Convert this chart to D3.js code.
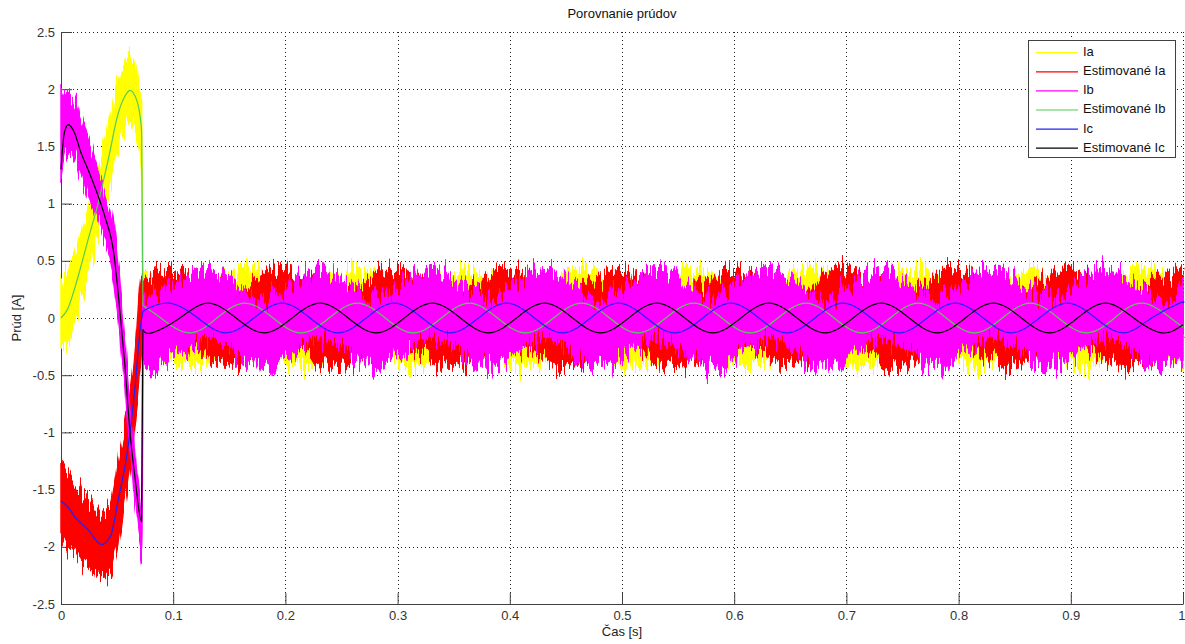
<!DOCTYPE html>
<html><head><meta charset="utf-8">
<script src="https://cdn.jsdelivr.net/npm/d3@7"></script>
<style>
body{margin:0;background:#fff;}
svg{display:block;}
text{font-family:"Liberation Sans",Arial,Helvetica,sans-serif;}
</style>
</head><body>
<svg id="c" width="1185" height="644"></svg>
<script>
// ---------- labels ----------
const titleText = "Porovnanie prúdov";
const xLabel = "Čas [s]";
const yLabel = "Prúd [A]";
const xTickValues = [0,0.1,0.2,0.3,0.4,0.5,0.6,0.7,0.8,0.9,1];
const xTickLabels = ["0","0.1","0.2","0.3","0.4","0.5","0.6","0.7","0.8","0.9","1"];
const yTickValues = [2.5,2,1.5,1,0.5,0,-0.5,-1,-1.5,-2,-2.5];
const yTickLabels = ["2.5","2","1.5","1","0.5","0","-0.5","-1","-1.5","-2","-2.5"];
const seriesNames = ["Ia","Estimované Ia","Ib","Estimované Ib","Ic","Estimované Ic"];
const seriesColors = ["#ffff00","#ff0000","#ff00ff","#55cc55","#2020ff","#000000"];

// ---------- start-up transient (t < 0.073 s) ----------
// Ia (yellow, noisy band: lower / upper edge)
const iaTrT  = [0,0.006,0.0125,0.018,0.024,0.033,0.042,0.051,0.056,0.0615,0.066,0.0695,0.0718,0.073];
const iaTrLo = [-0.28,-0.22,0.0,0.18,0.4,0.75,1.12,1.52,1.65,1.72,1.65,1.5,1.3,-0.19];
const iaTrHi = [0.35,0.42,0.55,0.75,0.98,1.28,1.66,2.07,2.2,2.3,2.22,2.02,1.92,0.41];
// Estimované Ia (red, noisy band)
const eiaTrT  = [0,0.006,0.0125,0.02,0.028,0.036,0.044,0.05,0.055,0.06,0.064,0.068,0.0718,0.073];
const eiaTrLo = [-1.92,-2.0,-2.05,-2.15,-2.22,-2.26,-2.22,-2.0,-1.72,-1.38,-1.12,-0.75,-0.35,-0.24];
const eiaTrHi = [-1.28,-1.35,-1.45,-1.55,-1.62,-1.7,-1.62,-1.3,-1.05,-0.75,-0.45,-0.05,0.4,0.36];
// Ib (magenta, noisy band)
const ibTrT  = [0,0.003,0.0065,0.012,0.018,0.024,0.03,0.039,0.047,0.0526,0.057,0.0615,0.066,0.0705,0.0722,0.073];
const ibTrLo = [1.25,1.4,1.45,1.4,1.25,1.1,0.95,0.68,0.35,-0.15,-0.6,-1.2,-1.6,-1.95,-2.05,-0.4];
const ibTrHi = [2.0,1.95,1.98,1.9,1.7,1.55,1.38,1.1,0.8,0.3,-0.22,-0.8,-1.2,-1.55,-1.65,0.2];
// Estimované Ib (green line)
const eibTrT = [0,0.006,0.0125,0.018,0.024,0.033,0.042,0.051,0.0565,0.0615,0.066,0.069,0.0719,0.073];
const eibTrV = [0.0,0.08,0.27,0.46,0.68,1.0,1.38,1.79,1.93,1.99,1.94,1.85,1.62,0.11];
// Ic (blue line)
const icTrT = [0,0.006,0.0125,0.024,0.036,0.044,0.051,0.0585,0.0615,0.066,0.0705,0.073];
const icTrV = [-1.6,-1.65,-1.74,-1.85,-1.98,-1.91,-1.59,-1.21,-1.0,-0.6,-0.1,0.06];
// Estimované Ic (black line)
const eicTrT = [0,0.003,0.0065,0.012,0.018,0.024,0.03,0.039,0.047,0.0526,0.057,0.0615,0.066,0.0718,0.073];
const eicTrV = [1.3,1.62,1.69,1.62,1.44,1.3,1.15,0.89,0.57,0.05,-0.42,-1.0,-1.4,-1.78,-0.10];

// ---------- steady state (t >= 0.073 s) ----------
// Estimované Ic (black) and Ib band (magenta) share these sample times
const tK = [0.073,0.081,0.106,0.131,0.156,0.181,0.206,0.231,0.256,0.281,0.306,0.331,0.356,0.381,0.406,0.431,0.456,0.481,0.506,0.531,0.556,0.581,0.606,0.631,0.656,0.681,0.706,0.731,0.756,0.781,0.806,0.831,0.856,0.881,0.906,0.931,0.956,0.981,1.0];
const eicV = [-0.10,-0.13,0,0.13,0,-0.13,0,0.13,0,-0.13,0,0.13,0,-0.13,0,0.13,0,-0.13,0,0.13,0,-0.13,0,0.13,0,-0.13,0,0.13,0,-0.13,0,0.13,0,-0.13,0,0.13,0,-0.13,-0.06];
const ibLo = [-0.40,-0.43,-0.3,-0.17,-0.3,-0.43,-0.3,-0.17,-0.3,-0.43,-0.3,-0.17,-0.3,-0.43,-0.3,-0.17,-0.3,-0.43,-0.3,-0.17,-0.3,-0.43,-0.3,-0.17,-0.3,-0.43,-0.3,-0.17,-0.3,-0.43,-0.3,-0.17,-0.3,-0.43,-0.3,-0.17,-0.3,-0.43,-0.36];
const ibHi = [0.20,0.17,0.3,0.43,0.3,0.17,0.3,0.43,0.3,0.17,0.3,0.43,0.3,0.17,0.3,0.43,0.3,0.17,0.3,0.43,0.3,0.17,0.3,0.43,0.3,0.17,0.3,0.43,0.3,0.17,0.3,0.43,0.3,0.17,0.3,0.43,0.3,0.17,0.24];
// Estimované Ib (green) and Ia band (yellow)
const tG = [0.073,0.089,0.114,0.139,0.164,0.189,0.214,0.239,0.264,0.289,0.314,0.339,0.364,0.389,0.414,0.439,0.464,0.489,0.514,0.539,0.564,0.589,0.614,0.639,0.664,0.689,0.714,0.739,0.764,0.789,0.814,0.839,0.864,0.889,0.914,0.939,0.964,0.989,1.0];
const eibV = [0.11,0,-0.13,0,0.13,0,-0.13,0,0.13,0,-0.13,0,0.13,0,-0.13,0,0.13,0,-0.13,0,0.13,0,-0.13,0,0.13,0,-0.13,0,0.13,0,-0.13,0,0.13,0,-0.13,0,0.13,0,-0.08];
const iaLo = [-0.19,-0.3,-0.43,-0.3,-0.17,-0.3,-0.43,-0.3,-0.17,-0.3,-0.43,-0.3,-0.17,-0.3,-0.43,-0.3,-0.17,-0.3,-0.43,-0.3,-0.17,-0.3,-0.43,-0.3,-0.17,-0.3,-0.43,-0.3,-0.17,-0.3,-0.43,-0.3,-0.17,-0.3,-0.43,-0.3,-0.17,-0.3,-0.38];
const iaHi = [0.41,0.3,0.17,0.3,0.43,0.3,0.17,0.3,0.43,0.3,0.17,0.3,0.43,0.3,0.17,0.3,0.43,0.3,0.17,0.3,0.43,0.3,0.17,0.3,0.43,0.3,0.17,0.3,0.43,0.3,0.17,0.3,0.43,0.3,0.17,0.3,0.43,0.3,0.22];
// Ic (blue) and Estimované Ia band (red)
const tC = [0.073,0.097,0.122,0.147,0.172,0.197,0.222,0.247,0.272,0.297,0.322,0.347,0.372,0.397,0.422,0.447,0.472,0.497,0.522,0.547,0.572,0.597,0.622,0.647,0.672,0.697,0.722,0.747,0.772,0.797,0.822,0.847,0.872,0.897,0.922,0.947,0.972,0.997,1.0];
const icV = [0.06,0.13,0,-0.13,0,0.13,0,-0.13,0,0.13,0,-0.13,0,0.13,0,-0.13,0,0.13,0,-0.13,0,0.13,0,-0.13,0,0.13,0,-0.13,0,0.13,0,-0.13,0,0.13,0,-0.13,0,0.13,0.129];
const eiaLo = [-0.24,-0.17,-0.3,-0.43,-0.3,-0.17,-0.3,-0.43,-0.3,-0.17,-0.3,-0.43,-0.3,-0.17,-0.3,-0.43,-0.3,-0.17,-0.3,-0.43,-0.3,-0.17,-0.3,-0.43,-0.3,-0.17,-0.3,-0.43,-0.3,-0.17,-0.3,-0.43,-0.3,-0.17,-0.3,-0.43,-0.3,-0.17,-0.17];
const eiaHi = [0.36,0.43,0.3,0.17,0.3,0.43,0.3,0.17,0.3,0.43,0.3,0.17,0.3,0.43,0.3,0.17,0.3,0.43,0.3,0.17,0.3,0.43,0.3,0.17,0.3,0.43,0.3,0.17,0.3,0.43,0.3,0.17,0.3,0.43,0.3,0.17,0.3,0.43,0.43];

// ---------- drawing ----------
const m = {l:61, r:1183, t:32, b:604};
const x = d3.scaleLinear().domain([0,1]).range([m.l,m.r]);
const y = d3.scaleLinear().domain([-2.5,2.5]).range([m.b,m.t]);
const svg = d3.select("#c");
svg.append("rect").attr("width",1185).attr("height",644).attr("fill","#fff");

// edge texture for the noisy measured signals (visual style only)
const defs = svg.append("defs");
[7,19,31].forEach((seed,i)=>{
  const f = defs.append("filter").attr("id","rough"+i)
    .attr("x","-2%").attr("y","-40%").attr("width","104%").attr("height","180%")
    .attr("color-interpolation-filters","sRGB");
  f.append("feTurbulence").attr("type","fractalNoise").attr("baseFrequency","0.45 0.012")
    .attr("numOctaves",2).attr("seed",seed).attr("result","t");
  f.append("feColorMatrix").attr("in","t").attr("type","matrix")
    .attr("values","0 0 0 0 0.5  0 1 0 0 0  0 0 1 0 0  0 0 0 0 1").attr("result","m");
  f.append("feDisplacementMap").attr("in","SourceGraphic").attr("in2","m")
    .attr("scale",46).attr("xChannelSelector","R").attr("yChannelSelector","G");
});

// grid (dotted)
const grid = svg.append("g").attr("stroke","#222").attr("stroke-width",1)
  .attr("stroke-dasharray","1,3").attr("shape-rendering","crispEdges");
grid.selectAll(".gx").data(xTickValues).join("line")
  .attr("x1",d=>Math.round(x(d))+0.5).attr("x2",d=>Math.round(x(d))+0.5)
  .attr("y1",m.t).attr("y2",m.b);
grid.selectAll(".gy").data(yTickValues).join("line")
  .attr("y1",d=>Math.round(y(d))+0.5).attr("y2",d=>Math.round(y(d))+0.5)
  .attr("x1",m.l).attr("x2",m.r);

// axes
const xAxis = d3.axisBottom(x).tickValues(xTickValues)
  .tickFormat((d,i)=>xTickLabels[i]).tickSizeInner(-11).tickSizeOuter(0).tickPadding(7);
const yAxis = d3.axisLeft(y).tickValues(yTickValues)
  .tickFormat((d,i)=>yTickLabels[i]).tickSizeInner(-11).tickSizeOuter(0).tickPadding(6);
const gx = svg.append("g").attr("transform",`translate(0,${m.b})`).call(xAxis);
const gy = svg.append("g").attr("transform",`translate(${m.l},0)`).call(yAxis);
[gx,gy].forEach(g=>{
  g.select(".domain").attr("stroke","#404040");
  g.selectAll(".tick line").attr("stroke","#404040");
  g.selectAll(".tick text").attr("fill","#333").style("font-size","13px")
    .style("font-family","'Liberation Sans',Arial,sans-serif");
});
// keep the last x tick label inside the picture
gx.selectAll(".tick text").filter((d,i)=>i===xTickValues.length-1)
  .attr("text-anchor","end").attr("x",2);

// helpers
const zip3 = (T,A,B)=>T.map((t,i)=>({t, lo:A[i], hi:B[i]}));
const zip2 = (T,V)=>T.map((t,i)=>({t, v:V[i]}));
const areaTr = d3.area().x(d=>x(d.t)).y0(d=>y(d.lo)).y1(d=>y(d.hi)).curve(d3.curveMonotoneX);
const areaSt = d3.area().x(d=>x(d.t)).y0(d=>y(d.lo)).y1(d=>y(d.hi)).curve(d3.curveNatural);
const lineTr = d3.line().x(d=>x(d.t)).y(d=>y(d.v)).curve(d3.curveMonotoneX);
const lineSt = d3.line().x(d=>x(d.t)).y(d=>y(d.v)).curve(d3.curveNatural);

const bands = [
  {c:seriesColors[0], tr:zip3(iaTrT,iaTrLo,iaTrHi),  st:zip3(tG,iaLo,iaHi)},
  {c:seriesColors[1], tr:zip3(eiaTrT,eiaTrLo,eiaTrHi), st:zip3(tC,eiaLo,eiaHi)},
  {c:seriesColors[2], tr:zip3(ibTrT,ibTrLo,ibTrHi),  st:zip3(tK,ibLo,ibHi)}
];
const plot = svg.append("g");
bands.forEach((b,i)=>{
  const g = plot.append("g").attr("filter",`url(#rough${i})`);
  g.append("path").attr("d",areaTr(b.tr)).attr("fill",b.c).attr("stroke",b.c).attr("stroke-width",1.5);
  g.append("path").attr("d",areaSt(b.st)).attr("fill",b.c).attr("stroke",b.c).attr("stroke-width",1.5);
});
const lines = [
  {c:seriesColors[3], tr:zip2(eibTrT,eibTrV), st:zip2(tG,eibV)},
  {c:seriesColors[4], tr:zip2(icTrT,icTrV),   st:zip2(tC,icV)},
  {c:seriesColors[5], tr:zip2(eicTrT,eicTrV), st:zip2(tK,eicV)}
];
lines.forEach(l=>{
  plot.append("path").attr("d",lineTr(l.tr)).attr("fill","none").attr("stroke",l.c).attr("stroke-width",1.2);
  plot.append("path").attr("d",lineSt(l.st)).attr("fill","none").attr("stroke",l.c).attr("stroke-width",1.2);
});

// title & labels
svg.append("text").attr("x",(m.l+m.r)/2).attr("y",15).attr("text-anchor","middle")
  .attr("dominant-baseline","middle").style("font-size","13px").attr("fill","#111").text(titleText);
svg.append("text").attr("x",(m.l+m.r)/2).attr("y",633).attr("text-anchor","middle")
  .attr("dominant-baseline","middle").style("font-size","13px").attr("fill","#222").text(xLabel);
svg.append("text").attr("transform",`translate(18,${(m.t+m.b)/2}) rotate(-90)`).attr("text-anchor","middle")
  .attr("dominant-baseline","middle").style("font-size","13px").attr("fill","#222").text(yLabel);

// legend
const lg = svg.append("g");
lg.append("rect").attr("x",1028.5).attr("y",40.5).attr("width",147).attr("height",117)
  .attr("fill","#fff").attr("stroke","#404040").attr("stroke-width",1);
seriesNames.forEach((n,i)=>{
  const yy = 52.7 + i*19.1;
  lg.append("line").attr("x1",1036).attr("x2",1078).attr("y1",yy).attr("y2",yy)
    .attr("stroke",seriesColors[i]).attr("stroke-width",1.2);
  lg.append("text").attr("x",1083).attr("y",yy).attr("dominant-baseline","middle")
    .style("font-size","13px").attr("fill","#111").text(n);
});
</script>
</body></html>
